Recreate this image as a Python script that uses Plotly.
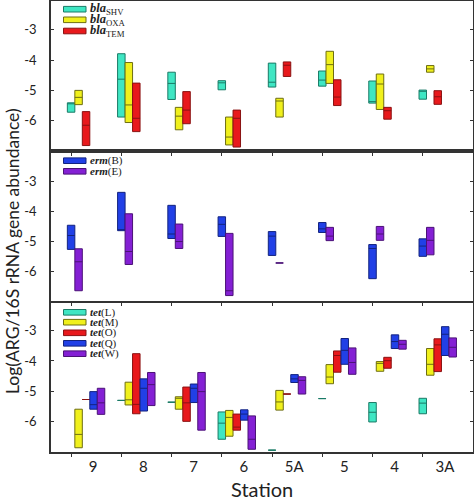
import plotly.graph_objects as go

# ---------------- data ----------------
stations = ["9", "8", "7", "6", "5A", "5", "4", "3A"]

# top panel (bla genes): q1 / median / q3 per station (None = not detected)
bla_shv_q1 = [-5.72, -5.88, -5.30, -4.98, -4.89, -4.86, -5.42, -5.29]
bla_shv_md = [-5.42, -4.63, -4.77, -4.75, -4.73, -4.66, -5.37, -5.03]
bla_shv_q3 = [-5.41, -3.79, -4.40, -4.68, -4.10, -4.36, -4.69, -4.99]

bla_oxa_q1 = [-5.47, -6.06, -6.30, -6.80, -5.88, -4.77, -5.63, -4.40]
bla_oxa_md = [-5.23, -5.48, -5.85, -6.54, -5.35, -4.15, -4.79, -4.29]
bla_oxa_q3 = [-5.00, -4.08, -5.56, -5.88, -5.26, -3.71, -4.46, -4.18]

bla_tem_q1 = [-6.82, -6.36, -6.10, -6.87, -4.54, -5.50, -5.95, -5.46]
bla_tem_md = [-6.15, -5.92, -5.65, -5.92, -4.17, -5.22, -5.67, -5.21]
bla_tem_q3 = [-5.70, -4.76, -5.04, -5.65, -4.06, -4.65, -5.56, -5.01]

# middle panel (erm genes)
erm_b_q1 = [-5.26, -4.64, -4.90, -4.83, -5.46, -4.70, -6.23, -5.49]
erm_b_md = [-4.80, -4.62, -4.75, -4.43, -4.82, -4.58, -5.23, -5.15]
erm_b_q3 = [-4.46, -3.37, -3.80, -4.18, -4.67, -4.37, -5.10, -4.91]

erm_e_q1 = [-6.63, -5.76, -5.23, -6.79, -5.71, -4.97, -4.96, -5.44]
erm_e_md = [-5.67, -5.33, -5.00, -6.63, -5.71, -4.82, -4.75, -4.96]
erm_e_q3 = [-5.24, -4.08, -4.42, -4.73, -5.71, -4.53, -4.50, -4.53]

# bottom panel (tet genes)
tet_l_q1 = [None, -5.30, -5.36, -6.58, -6.94, -5.24, -6.01, -5.74]
tet_l_md = [None, -5.30, -5.36, -6.05, -6.94, -5.24, -5.69, -5.39]
tet_l_q3 = [None, -5.30, -5.36, -5.68, -6.94, -5.24, -5.37, -5.23]

tet_m_q1 = [-6.86, -5.45, -5.59, -6.48, -5.62, -4.75, -4.34, -4.47]
tet_m_md = [-6.42, -5.28, -5.23, -5.86, -5.35, -4.53, -4.08, -4.11]
tet_m_q3 = [-5.59, -4.70, -5.18, -5.63, -4.97, -4.12, -4.02, -3.59]

tet_o_q1 = [-5.27, -5.74, -5.99, -6.28, -5.09, -4.37, -4.24, -4.35]
tet_o_md = [-5.27, -5.43, -5.38, -6.18, -5.09, -3.82, -3.99, -3.47]
tet_o_q3 = [-5.27, -3.76, -4.86, -5.75, -5.09, -3.67, -3.88, -3.27]

tet_q_q1 = [-5.59, -5.65, -5.37, -5.95, -4.71, -4.11, -3.59, -3.82]
tet_q_md = [-5.44, -4.90, -4.90, -5.75, -4.59, -3.65, -3.36, -3.12]
tet_q_q3 = [-5.01, -4.59, -4.76, -5.61, -4.45, -3.26, -3.14, -2.87]

tet_w_q1 = [-5.76, -5.47, -6.28, -6.91, -5.09, -4.44, -3.61, -3.87]
tet_w_md = [-5.38, -4.78, -5.01, -6.58, -4.64, -4.05, -3.45, -3.55]
tet_w_q3 = [-4.90, -4.38, -4.38, -5.81, -4.52, -3.57, -3.32, -3.24]

y_ticks = [-6, -5, -4, -3]
y_tick_text = ["-6", "-5", "-4", "-3"]

# ---------------- styling ----------------
COL = {
    "cyan": ("#3FE6C3", "#1A7A66"),
    "yellow": ("#F0F01C", "#6E6E12"),
    "red": ("#E8191C", "#8A1212"),
    "blue": ("#2140E6", "#13237F"),
    "purple": ("#8420D4", "#4B1277"),
}

panels = [
    ("x", "y", [
        ("<b><i>bla</i></b><sub>SHV</sub>", "cyan", bla_shv_q1, bla_shv_md, bla_shv_q3),
        ("<b><i>bla</i></b><sub>OXA</sub>", "yellow", bla_oxa_q1, bla_oxa_md, bla_oxa_q3),
        ("<b><i>bla</i></b><sub>TEM</sub>", "red", bla_tem_q1, bla_tem_md, bla_tem_q3),
    ]),
    ("x2", "y2", [
        ("<b><i>erm</i></b>(B)", "blue", erm_b_q1, erm_b_md, erm_b_q3),
        ("<b><i>erm</i></b>(E)", "purple", erm_e_q1, erm_e_md, erm_e_q3),
    ]),
    ("x3", "y3", [
        ("<b><i>tet</i></b>(L)", "cyan", tet_l_q1, tet_l_md, tet_l_q3),
        ("<b><i>tet</i></b>(M)", "yellow", tet_m_q1, tet_m_md, tet_m_q3),
        ("<b><i>tet</i></b>(O)", "red", tet_o_q1, tet_o_md, tet_o_q3),
        ("<b><i>tet</i></b>(Q)", "blue", tet_q_q1, tet_q_md, tet_q_q3),
        ("<b><i>tet</i></b>(W)", "purple", tet_w_q1, tet_w_md, tet_w_q3),
    ]),
]

SLOT = 0.149  # spacing between series inside a station group (axis units)

fig = go.Figure()
for xa, ya, series in panels:
    for k, (name, col, q1, md, q3) in enumerate(series):
        xs, a, m, b = [], [], [], []
        for i in range(len(stations)):
            if q1[i] is None:
                continue
            xs.append(i + k * SLOT)
            a.append(q1[i]); m.append(md[i]); b.append(q3[i])
        fill, line = COL[col]
        fig.add_trace(go.Box(
            x=xs, q1=a, median=m, q3=b, lowerfence=a, upperfence=b,
            orientation="v", width=SLOT, whiskerwidth=0, boxpoints=False,
            fillcolor=fill, line=dict(color=line, width=1),
            name=name, showlegend=False, xaxis=xa, yaxis=ya,
        ))

# ---------------- layout ----------------
W, H = 474, 501
ML, MR, MT, MB = 51, 1, 1, 49
PW, PH = W - ML - MR, H - MT - MB


def py(p):  # pixel row -> paper y
    return (H - MB - p) / PH


def px(p):  # pixel column -> paper x
    return (p - ML) / PW


AX = "#333333"
xcommon = dict(range=[-0.4, 8.0], showgrid=False, zeroline=False, showline=True,
               linecolor=AX, linewidth=1.5, mirror=True, ticks="outside", ticklen=3,
               tickcolor=AX, tickwidth=1, tickvals=list(range(8)), showticklabels=False,
               automargin=False)
ycommon = dict(showgrid=False, zeroline=False, showline=True, linecolor=AX, linewidth=1.5,
               mirror="ticks", ticks="inside", ticklen=3, tickcolor=AX, tickwidth=1,
               tickvals=y_ticks, ticktext=y_tick_text, ticklabelstandoff=10,
               automargin=False,
               tickfont=dict(family="Lato", size=13, color="#222"))

fig.update_layout(
    width=W, height=H, margin=dict(l=ML, r=MR, t=MT, b=MB),
    paper_bgcolor="white", plot_bgcolor="white", boxmode="overlay",
    xaxis=dict(**xcommon, anchor="y"),
    xaxis2=dict(**xcommon, anchor="y2"),
    xaxis3=dict(**{**xcommon, "tickvals": [i + 0.44 for i in range(8)], "ticktext": stations,
                   "showticklabels": True, "ticks": "",
                   "tickfont": dict(family="Lato", size=15, color="#222"),
                   "minor": dict(tickvals=list(range(8)), ticks="outside", ticklen=3,
                                 tickcolor=AX, tickwidth=1)}, anchor="y3"),
    yaxis=dict(**ycommon, range=[-7.0, -2.05], domain=[py(151), py(1)], anchor="x"),
    yaxis2=dict(**ycommon, range=[-6.97, -2.0], domain=[py(301), py(151)], anchor="x2"),
    yaxis3=dict(**ycommon, range=[-7.0, -2.09], domain=[py(452), py(303)], anchor="x3"),
)

# axis titles
fig.add_annotation(text="Log(ARG/16S rRNA gene abundance)", xref="paper", yref="paper",
                   x=px(12), y=py(251), textangle=-90, showarrow=False,
                   xanchor="center", yanchor="middle",
                   font=dict(family="Lato", size=17.5, color="#222"))
fig.add_annotation(text="Station", xref="paper", yref="paper", x=px(262), y=py(489),
                   showarrow=False, xanchor="center", yanchor="middle",
                   font=dict(family="Lato", size=20, color="#222"))

# in-panel legends
legend_rows = [
    (panels[0][2], [9.2, 19.8, 31.0], 12.5),
    (panels[1][2], [160.7, 171.3], 11),
    (panels[2][2], [312.3, 322.2, 332.8, 343.3, 353.7], 11),
]
for series, ys, fs in legend_rows:
    for (name, col, *_), yc in zip(series, ys):
        fill, line = COL[col]
        fig.add_shape(type="rect", xref="paper", yref="paper",
                      x0=px(63.5), x1=px(86), y0=py(yc + 2.8), y1=py(yc - 2.8),
                      fillcolor=fill, line=dict(color=line, width=1))
        fig.add_annotation(text=name, xref="paper", yref="paper", x=px(88), y=py(yc),
                           xanchor="left", yanchor="middle", showarrow=False,
                           font=dict(family="Liberation Serif", size=fs, color="#222"))

fig.write_html("out.html", config={"displayModeBar": False},
               post_script="document.body.style.margin='0';document.body.style.overflow='hidden';")
